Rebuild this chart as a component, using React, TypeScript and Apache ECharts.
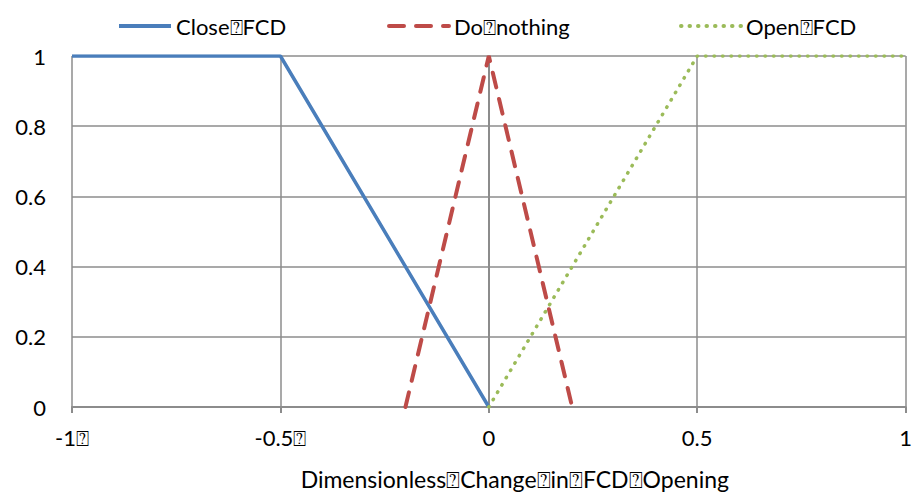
import React, { useEffect, useRef } from "react";
import * as echarts from "echarts";

const B = "\u2370";
const seriesNames = [`Close${B}FCD`, `Do${B}nothing`, `Open${B}FCD`];
const closeFCD = [[-1, 1], [-0.5, 1], [0, 0]];
const doNothing = [[-0.2, 0], [0, 1], [0.2, 0]];
const openFCD = [[0, 0], [0.5, 1], [1, 1]];
const xTickValues = [-1, -0.5, 0, 0.5, 1];
const xTickLabels = [`-1${B}`, `-0.5${B}`, "0", "0.5", "1"];
const xAxisTitle = `Dimensionless${B}Change${B}in${B}FCD${B}Opening`;

const FONT = "Lato, 'Open Sans', sans-serif";
const FS = 22;
const GRID = "#8c8c8c";

export default function App() {
  const ref = useRef<HTMLDivElement>(null);
  useEffect(() => {
    document.body.style.margin = "0";
    const chart = echarts.init(ref.current!, null, { renderer: "svg" });
    const legendBase = {
      top: 10,
      itemHeight: 22,
      itemStyle: { opacity: 0 },
      lineStyle: { width: 4 },
      textStyle: { fontFamily: FONT, fontSize: FS, color: "#000" },
    };
    chart.setOption({
      animation: false,
      backgroundColor: "#fff",
      grid: { left: 72, right: 8, top: 56, bottom: 87, containLabel: false },
      legend: [
        { ...legendBase, left: 112, itemWidth: 52, data: [seriesNames[0]] },
        { ...legendBase, left: 382, itemWidth: 60, data: [seriesNames[1]] },
        { ...legendBase, left: 674, itemWidth: 60, data: [seriesNames[2]] },
      ],
      xAxis: {
        type: "value",
        min: -1,
        max: 1,
        interval: 0.5,
        name: xAxisTitle,
        nameLocation: "middle",
        nameGap: 60,
        nameTextStyle: { fontFamily: FONT, fontSize: 23, color: "#000", padding: [0, 0, 0, 52] },
        axisLine: { show: true, onZero: false, lineStyle: { color: GRID, width: 2 } },
        axisTick: { show: true, length: 6, lineStyle: { color: GRID, width: 2 } },
        splitLine: { show: true, lineStyle: { color: GRID, width: 1.5 } },
        axisLabel: {
          margin: 19,
          fontFamily: FONT,
          fontSize: FS,
          color: "#000",
          formatter: (v: number) => {
            const i = xTickValues.findIndex((t) => Math.abs(t - v) < 1e-9);
            return i >= 0 ? xTickLabels[i] : "";
          },
        },
      },
      yAxis: {
        type: "value",
        min: 0,
        max: 1,
        interval: 0.2,
        axisLine: { show: true, lineStyle: { color: GRID, width: 2 } },
        axisTick: { show: false },
        splitLine: { show: true, lineStyle: { color: GRID, width: 1.5 } },
        axisLabel: {
          margin: 26,
          fontFamily: FONT,
          fontSize: FS,
          color: "#000",
          formatter: (v: number) => String(Math.round(v * 10) / 10),
        },
      },
      series: [
        {
          name: seriesNames[0],
          type: "line",
          data: closeFCD,
          symbol: "none",
          color: "#4A7EBB",
          lineStyle: { width: 3.5, color: "#4A7EBB" },
        },
        {
          name: seriesNames[1],
          type: "line",
          data: doNothing,
          symbol: "none",
          color: "#BE4B48",
          lineStyle: { width: 4, color: "#BE4B48", type: [15, 12], cap: "round" },
        },
        {
          name: seriesNames[2],
          type: "line",
          data: openFCD,
          symbol: "none",
          color: "#9BBB59",
          lineStyle: { width: 3.5, color: "#9BBB59", type: [0.5, 8], cap: "round" },
        },
      ],
    });
    return () => chart.dispose();
  }, []);
  return <div ref={ref} style={{ width: 915, height: 495 }} />;
}
